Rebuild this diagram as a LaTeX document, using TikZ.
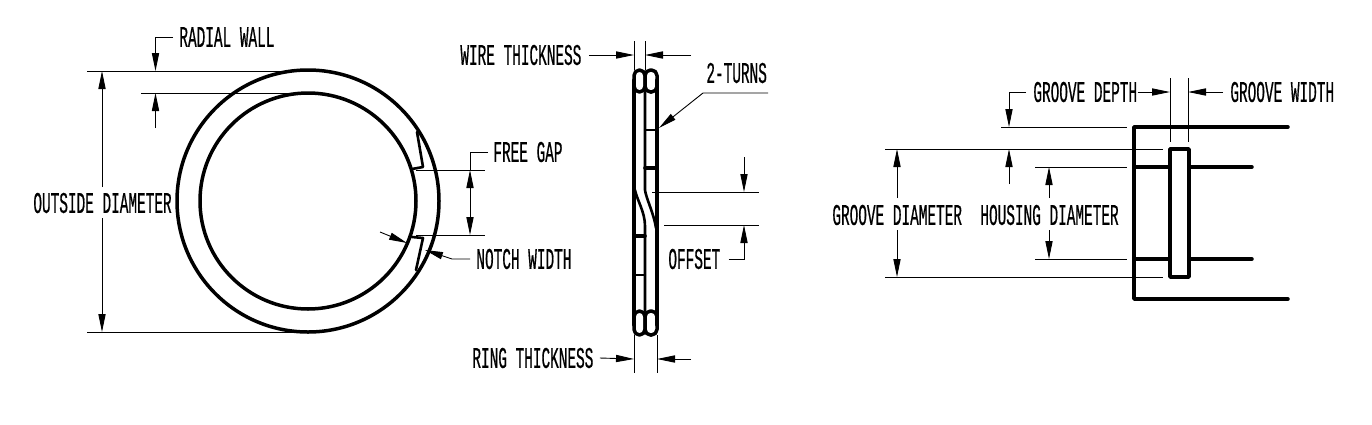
\documentclass[tikz,border=0pt]{standalone}
\usepackage{fontspec}
\usepackage{tikz}
\usetikzlibrary{arrows.meta,positioning}
\newfontfamily\dimfont[FakeStretch=0.48,FakeBold=0.5]{Liberation Mono}
\tikzset{
  wall/.style={line width=1.75pt,line cap=round,line join=round},
  dimline/.style={line width=0.45pt},
  dimtip/.style={line width=0.45pt,-{Triangle[length=9pt,width=3.6pt]}},
  dimboth/.style={line width=0.45pt,{Triangle[length=9pt,width=3.6pt]}-{Triangle[length=9pt,width=3.6pt]}},
  dimtext/.style={font=\dimfont\fontsize{15}{15}\selectfont,inner sep=0pt,anchor=west}
}
\begin{document}
\begin{tikzpicture}[x=0.5pt,y=-0.5pt]
\useasboundingbox (0,0) rectangle (1372,424);

%ring
\coordinate (ring) at (308,201);
\draw[wall] (ring) circle [radius=65.5pt];
\draw[wall] (ring) circle [radius=54pt];
%notches
\draw[wall,line width=1.3pt] (417,132) -- (423,167) -- (412,169);
\draw[wall,line width=1.3pt] (412,237) -- (423,238) -- (416,270);

%labels
\node[dimtext] (radial) at (179,37) {RADIAL WALL};
\node[dimtext] (outside) at (33,203) {OUTSIDE DIAMETER};
\node[dimtext] (gap) at (493,152) {FREE GAP};
\node[dimtext] (notch) at (476,259) {NOTCH WIDTH};
\node[dimtext] (wire) at (460,55) {WIRE THICKNESS};
\node[dimtext] (turns) at (706,73) {2-TURNS};
\node[dimtext] (offset) at (668,259) {OFFSET};
\node[dimtext] (thick) at (472,358) {RING THICKNESS};
\node[dimtext] (depth) at (1033,92) {GROOVE DEPTH};
\node[dimtext] (width) at (1230,92) {GROOVE WIDTH};
\node[dimtext] (groove) at (832,215) {GROOVE DIAMETER};
\node[dimtext] (housing) at (980,215) {HOUSING DIAMETER};

%radial wall
\draw[dimline] (87,71) -- (307,71);
\draw[dimline] (141,93) -- (308,93);
\coordinate (radial elbow) at (155.5,37);
\draw[dimtip] (radial.west) ++(-6,0) -- (radial elbow) -- (155.5,71);
\draw[dimtip] (155.5,128) -- (155.5,93);

%outside diameter
\draw[dimline] (87,332) -- (308,332);
\draw[dimtip] (102,187) -- (102,71);
\draw[dimtip] (102,218) -- (102,332);

%free gap
\draw[dimline] (416,170) -- (485,170);
\draw[dimline] (416,235) -- (485,235);
\coordinate (gap elbow) at (470,152);
\draw[dimline] (gap.west) ++(-5,0) -- (gap elbow) -- (470,170);
\draw[dimboth] (470,170) -- (470,235);

%notch width
\draw[dimtip] (380,232) -- (407,243);
\coordinate (notch elbow) at (452,259);
\draw[dimtip] (notch.west) ++(-6,0) -- (notch elbow) -- (425,250);

%side view
\draw[wall,rounded corners=2.75pt] (634,70) rectangle (645,92);
\draw[wall,rounded corners=2.75pt] (645,70) rectangle (657,92);
\draw[wall,rounded corners=2.75pt] (634,311) rectangle (645,335);
\draw[wall,rounded corners=2.75pt] (645,311) rectangle (657,335);
\draw[wall] (634,80) -- (634,325);
\draw[wall] (657,80) -- (657,325);
\draw[wall,line width=1.3pt] (645,92) -- (645,190) .. controls (646,198) and (654,214) .. (656,228);
\draw[wall,line width=1.3pt] (635,190) .. controls (637,200) and (645,212) .. (645,226) -- (645,311);
\foreach \y/\w in {130/1.1,168/1.8}
\draw[wall,line width=\w pt] (645,\y) -- (657,\y);
\foreach \y/\w in {236/1.8,275/1.1}
\draw[wall,line width=\w pt] (634,\y) -- (645,\y);

%wire thickness
\draw[dimline] (634,41) -- (634,70);
\draw[dimline] (645,41) -- (645,70);
\draw[dimtip] (wire.east) ++(7,0) -- (634,55);
\draw[dimtip] (691,55) -- (645,55);

%2-turns
\coordinate (turns end) at (768,93);
\coordinate (turns elbow) at (703,93);
\draw[dimtip] (turns end) -- (turns elbow) -- (659,128);

%offset
\draw[dimline] (652,192) -- (759,192);
\draw[dimline] (664,225) -- (759,225);
\draw[dimtip] (744,157) -- (744,192);
\coordinate (offset elbow) at (744,259);
\draw[dimtip] (offset.east) ++(8,0) -- (offset elbow) -- (744,225);

%ring thickness
\draw[dimline] (634,335) -- (634,373);
\draw[dimline] (657,335) -- (657,373);
\draw[dimtip] (thick.east) ++(6,0) -- (634,359);
\draw[dimtip] (691,359) -- (657,359);

%housing
\draw[wall] (1288,127) -- (1134,127) -- (1134,299) -- (1288,299);
\draw[wall] (1134,167) -- (1169,167);
\draw[wall] (1134,259) -- (1169,259);
\draw[wall] (1190,167) -- (1252,167);
\draw[wall] (1190,259) -- (1252,259);
\draw[wall] (1170,149) rectangle (1189,277);

%groove extension lines
\draw[dimline] (1001,127) -- (1127,127);
\draw[dimline] (885,149) -- (1163,149);
\draw[dimline] (1035,167) -- (1127,167);
\draw[dimline] (1035,259) -- (1127,259);
\draw[dimline] (885,277) -- (1163,277);
\draw[dimline] (1170,78) -- (1170,142);
\draw[dimline] (1188,78) -- (1188,142);

%groove depth and width
\coordinate (depth elbow) at (1009,92);
\draw[dimtip] (depth.west) ++(-7,0) -- (depth elbow) -- (1009,127);
\draw[dimtip] (1009,184) -- (1009,149);
\draw[dimtip] (depth.east) -- (1170,92);
\draw[dimtip] (width.west) ++(-7,0) -- (1188,92);

%diameters
\draw[dimtip] (897,198) -- (897,149);
\draw[dimtip] (897,230) -- (897,277);
\draw[dimtip] (1049,198) -- (1049,167);
\draw[dimtip] (1049,230) -- (1049,259);

\end{tikzpicture}
\end{document}
